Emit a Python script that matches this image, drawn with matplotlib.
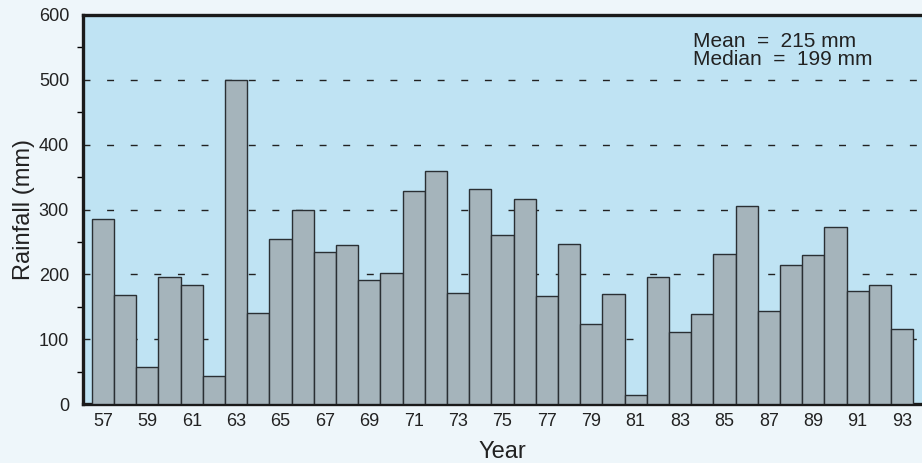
import matplotlib.pyplot as plt
from matplotlib.ticker import MultipleLocator

years = list(range(1957, 1994))
rainfall = [285, 168, 58, 196, 183, 43, 500, 140, 255, 300,
            234, 246, 192, 202, 328, 359, 172, 332, 260, 316,
            167, 247, 123, 170, 14, 196, 112, 139, 231, 305,
            144, 214, 230, 273, 174, 183, 116]
tick_years = years[::2]
tick_labels = [str(y % 100) for y in tick_years]

plt.rcParams['font.family'] = ['Liberation Sans', 'DejaVu Sans']

fig = plt.figure(figsize=(9.22, 4.63), dpi=100, facecolor='#eef6fa')
ax = fig.add_axes([0.09, 0.127, 0.91, 0.841])
ax.set_facecolor('#bfe3f3')

ax.bar(years, rainfall, width=1.0, color='#a5b4bb', edgecolor='#2a2f33',
       linewidth=1.0, zorder=3)

for v in range(100, 600, 100):
    ax.axhline(v, color='#222222', linewidth=1.0, dashes=(5, 12), zorder=1)

ax.set_xlim(1956.1, 1993.9)
ax.set_ylim(0, 600)
ax.set_xticks(tick_years)
ax.set_xticklabels(tick_labels)
ax.yaxis.set_major_locator(MultipleLocator(100))
ax.yaxis.set_minor_locator(MultipleLocator(50))
ax.tick_params(axis='both', direction='in', labelsize=13, colors='#222222')
ax.tick_params(axis='x', length=4, width=1, pad=6)
ax.tick_params(axis='y', which='major', length=0, pad=10)
ax.tick_params(axis='y', which='minor', length=4, width=1)

for side in ['left', 'top', 'bottom']:
    ax.spines[side].set_linewidth(2.4)
    ax.spines[side].set_color('#1a1a1a')
ax.spines['right'].set_visible(False)

ax.set_xlabel('Year', fontsize=17, color='#222222', labelpad=8)
ax.set_ylabel('Rainfall (mm)', fontsize=17, color='#222222', labelpad=3)

ax.text(0.727, 0.955, 'Mean  =  215 mm\nMedian  =  199 mm', transform=ax.transAxes,
        fontsize=15, color='#222222', va='top', ha='left', linespacing=0.88)

fig.savefig('out.png', dpi=100, facecolor=fig.get_facecolor())
